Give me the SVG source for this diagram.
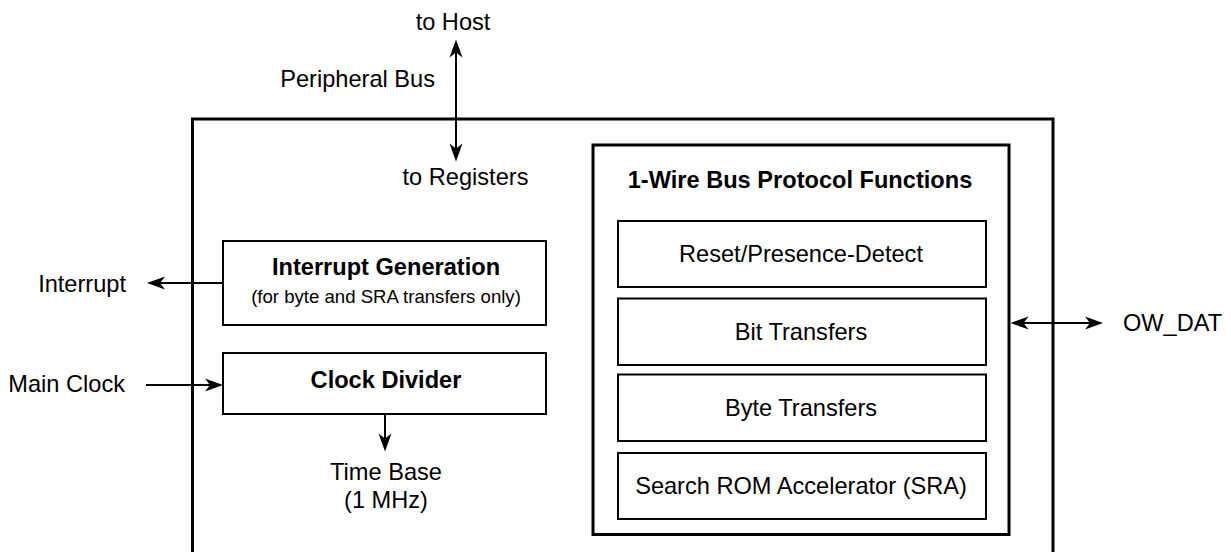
<svg xmlns="http://www.w3.org/2000/svg" width="1231" height="552" viewBox="0 0 1231 552">
  <style>
    text { font-family: "Liberation Sans", Arial, Helvetica, sans-serif; font-size: 23.6px; fill: #000; }
    .b { font-weight: bold; }
    .s { font-size: 18.6px; }
    .m { text-anchor: middle; }
    .e { text-anchor: end; }
    .thick { fill: none; stroke: #000; stroke-width: 3; }
    .box { fill: #fff; stroke: #000; stroke-width: 2; }
    .wire { fill: none; stroke: #000; stroke-width: 2; }
  </style>
  <defs>
    <marker id="ah" viewBox="-10 -8 22 16" markerWidth="22" markerHeight="16" refX="0" refY="0" orient="auto-start-reverse" markerUnits="userSpaceOnUse">
      <path d="M10,0 L-8,-6.5 L-3,0 L-8,6.5 Z" fill="#000"/>
    </marker>
  </defs>
  <rect width="1231" height="552" fill="#fff"/>

  <g id="outer">
    <path class="thick" d="M192.5,552 V119 H1053 V552"/>
  </g>

  <g id="labels">
    <text class="m" x="453" y="30">to Host</text>
    <text class="e" x="435" y="87">Peripheral Bus</text>
    <text class="m" x="465.5" y="185">to Registers</text>
    <text class="e" x="126" y="291.5">Interrupt</text>
    <text class="e" x="125" y="392">Main Clock</text>
    <text class="m" x="386" y="480">Time Base</text>
    <text class="m" x="386" y="508">(1 MHz)</text>
    <text x="1123" y="330.5">OW_DAT</text>
  </g>

  <g id="interrupt-generation">
    <rect class="box" x="223" y="241" width="323" height="84"/>
    <text class="b m" x="386" y="275">Interrupt Generation</text>
    <text class="s m" x="386" y="302.5">(for byte and SRA transfers only)</text>
  </g>

  <g id="clock-divider">
    <rect class="box" x="223" y="353" width="323" height="61"/>
    <text class="b m" x="386" y="388">Clock Divider</text>
  </g>

  <g id="protocol-functions">
    <rect class="thick" x="593" y="145" width="416" height="389.5"/>
    <text class="b m" x="800" y="188">1-Wire Bus Protocol Functions</text>
  </g>

  <g id="reset-presence">
    <rect class="box" x="618" y="221" width="368" height="66"/>
    <text class="m" x="801" y="262">Reset/Presence-Detect</text>
  </g>

  <g id="bit-transfers">
    <rect class="box" x="618" y="298.5" width="368" height="66.5"/>
    <text class="m" x="801" y="340">Bit Transfers</text>
  </g>

  <g id="byte-transfers">
    <rect class="box" x="618" y="374.5" width="368" height="66.5"/>
    <text class="m" x="801" y="416">Byte Transfers</text>
  </g>

  <g id="sra">
    <rect class="box" x="618" y="453" width="368" height="66"/>
    <text class="m" x="801" y="494">Search ROM Accelerator (SRA)</text>
  </g>

  <g id="connectors">
    <path class="wire" d="M456,49.5 V151.5" marker-start="url(#ah)" marker-end="url(#ah)"/>
    <path class="wire" d="M223,283 H157" marker-end="url(#ah)"/>
    <path class="wire" d="M146,385 H213" marker-end="url(#ah)"/>
    <path class="wire" d="M385,414 V441.5" marker-end="url(#ah)"/>
    <path class="wire" d="M1020.5,323 H1093" marker-start="url(#ah)" marker-end="url(#ah)"/>
  </g>
</svg>
